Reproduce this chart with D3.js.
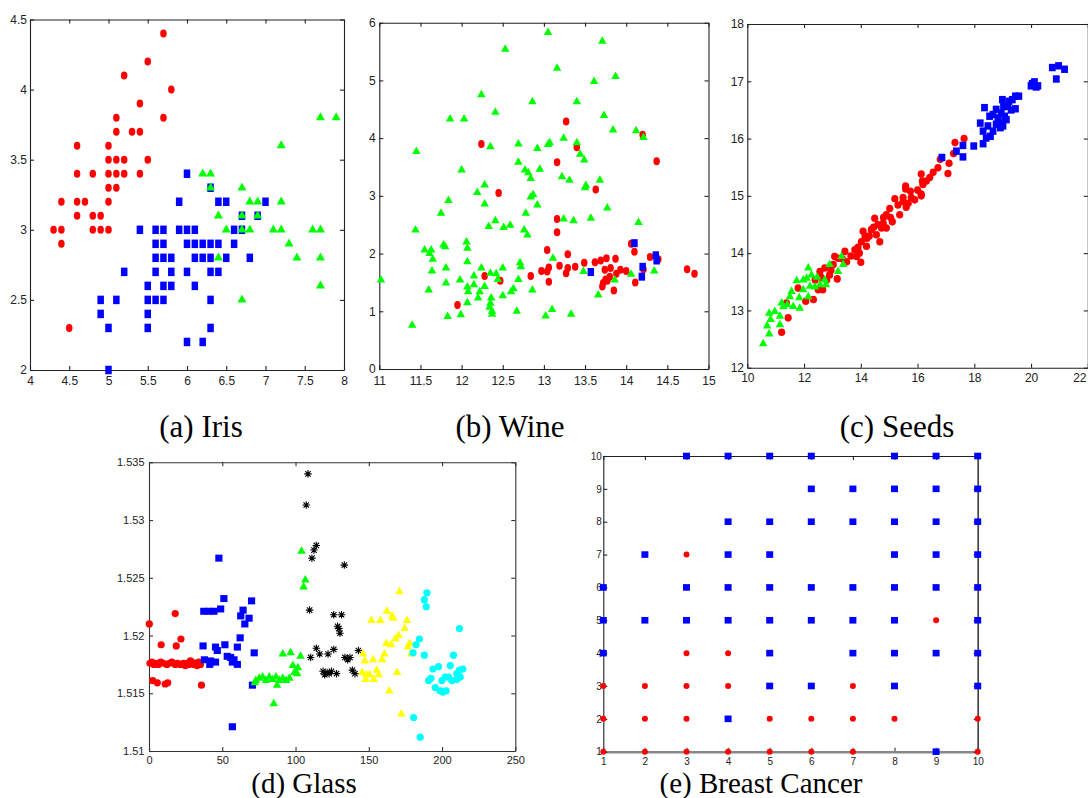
<!DOCTYPE html>
<html>
<head>
<meta charset="utf-8">
<script src="https://cdn.jsdelivr.net/npm/d3@7"></script>
<style>
body { margin: 0; background: #fff; }
</style>
</head>
<body>
<script>

// ---- Iris (sepal length, sepal width)
var irisRed = [[5.7,4.4],[5.5,4.2],[5.2,4.1],[5.8,4.0],[5.4,3.9],[5.1,3.8],[5.7,3.8],[5.1,3.7],[5.3,3.7],[5.4,3.7],
    [4.6,3.6],[5.0,3.6],[5.0,3.5],[5.1,3.5],[5.2,3.5],[5.5,3.5],[4.6,3.4],[4.8,3.4],[5.0,3.4],[5.1,3.4],[5.2,3.4],[5.4,3.4],
    [5.0,3.3],[5.1,3.3],[4.4,3.2],[4.6,3.2],[4.7,3.2],[5.0,3.2],[4.6,3.1],[4.8,3.1],[4.9,3.1],[4.3,3.0],[4.4,3.0],[4.8,3.0],
    [4.9,3.0],[5.0,3.0],[4.4,2.9],[4.5,2.3]];
var irisBlue = [[6.0,3.4],[6.3,3.3],[5.9,3.2],[6.4,3.2],[6.5,3.2],[7.0,3.2],[6.7,3.1],[6.9,3.1],[5.4,3.0],[5.6,3.0],[5.7,3.0],
    [5.9,3.0],[6.0,3.0],[6.1,3.0],[6.6,3.0],[6.7,3.0],[5.6,2.9],[5.7,2.9],[6.0,2.9],[6.1,2.9],[6.2,2.9],[6.3,2.9],[6.4,2.9],
    [6.6,2.9],[5.6,2.8],[5.7,2.8],[5.8,2.8],[6.1,2.8],[6.2,2.8],[6.3,2.8],[6.5,2.8],[6.8,2.8],[5.2,2.7],[5.6,2.7],[5.8,2.7],
    [6.0,2.7],[6.3,2.7],[6.4,2.7],[5.5,2.6],[5.7,2.6],[5.8,2.6],[6.1,2.6],[4.9,2.5],[5.1,2.5],[5.5,2.5],[5.6,2.5],[5.7,2.5],
    [6.3,2.5],[4.9,2.4],[5.5,2.4],[5.0,2.3],[5.5,2.3],[6.3,2.3],[6.0,2.2],[6.2,2.2],[5.0,2.0]];
var irisGreen = [[7.7,3.8],[7.9,3.8],[7.2,3.6],[6.2,3.4],[6.3,3.4],[6.3,3.3],[6.7,3.3],[6.8,3.2],[6.9,3.2],[7.2,3.2],[6.4,3.1],
    [6.7,3.1],[6.9,3.1],[6.5,3.0],[6.7,3.0],[6.8,3.0],[7.1,3.0],[7.2,3.0],[7.6,3.0],[7.7,3.0],[7.3,2.9],[6.4,2.8],[7.4,2.8],
    [7.7,2.8],[7.7,2.6],[6.7,2.5]];
var irisXTicks = [4, 4.5, 5, 5.5, 6, 6.5, 7, 7.5, 8];
var irisXLabels = ["4", "4.5", "5", "5.5", "6", "6.5", "7", "7.5", "8"];
var irisYTicks = [2, 2.5, 3, 3.5, 4, 4.5];
var irisYLabels = ["2", "2.5", "3", "3.5", "4", "4.5"];

// ---- Wine
var wineRed = [[13.27,4.29],[12.24,3.90],[13.40,3.84],[14.20,4.06],[13.16,3.58],[14.37,3.60],[12.45,3.05],[13.63,3.11],
    [13.16,2.60],[13.16,2.37],[13.04,2.06],[13.29,1.99],[14.06,2.17],[14.10,2.03],[14.29,1.94],[14.39,1.90],[13.87,1.91],
    [13.76,1.92],[13.69,1.88],[13.62,1.85],[13.49,1.84],[13.19,1.79],[13.38,1.77],[13.29,1.75],[13.06,1.76],[12.97,1.70],
    [13.04,1.69],[13.27,1.66],[13.74,1.72],[13.81,1.75],[13.93,1.72],[13.88,1.65],[14.00,1.70],[14.21,1.73],[13.80,1.60],
    [13.75,1.55],[13.72,1.49],[13.71,1.43],[13.06,1.51],[12.84,1.61],[12.28,1.61],[12.47,1.53],[14.11,1.50],[13.85,1.36],
    [11.95,1.11],[14.74,1.73],[14.83,1.65],[13.77,1.53]];
var wineGreen = [[13.05,5.83],[13.71,5.68],[12.53,5.54],[13.16,5.21],[13.87,5.07],[13.61,4.98],[12.24,4.75],[12.86,4.63],
    [13.40,4.63],[12.41,4.45],[13.73,4.39],[11.86,4.33],[12.03,4.33],[13.84,4.14],[14.12,4.13],[14.21,4.01],[13.24,4.00],
    [13.07,3.92],[13.05,3.89],[13.40,3.92],[12.69,3.90],[12.35,3.85],[12.92,3.82],[11.45,3.77],[13.44,3.72],[13.49,3.62],
    [12.69,3.58],[12.00,3.45],[12.77,3.45],[12.81,3.40],[12.95,3.46],[12.84,3.30],[13.22,3.33],[13.31,3.27],[13.68,3.27],
    [13.51,3.18],[13.50,3.14],[12.28,3.19],[12.19,3.06],[12.87,3.02],[12.84,2.98],[11.84,2.92],[12.28,2.86],[12.92,2.84],
    [13.77,2.79],[11.75,2.70],[12.78,2.70],[13.24,2.60],[13.36,2.57],[13.57,2.61],[12.41,2.57],[12.33,2.47],[12.59,2.49],
    [12.51,2.45],[14.15,2.54],[11.44,2.41],[12.76,2.41],[12.80,2.32],[12.06,2.20],[12.07,2.09],[11.78,2.15],[11.80,2.12],
    [11.55,2.06],[11.63,2.06],[11.61,2.00],[11.65,1.90],[13.11,1.92],[12.07,1.86],[12.71,1.84],[12.72,1.77],[11.81,1.75],
    [12.24,1.75],[12.50,1.75],[11.64,1.70],[12.35,1.66],[12.42,1.65],[12.15,1.61],[13.48,1.69],[14.34,1.70],[14.06,1.64],
    [13.86,1.54],[11.02,1.54],[11.98,1.54],[12.69,1.55],[12.44,1.55],[12.28,1.43],[11.81,1.49],[12.15,1.46],[12.07,1.42],
    [12.08,1.34],[12.22,1.34],[12.63,1.39],[12.60,1.34],[12.86,1.37],[11.60,1.37],[12.20,1.23],[12.50,1.27],[12.36,1.23],
    [12.35,1.14],[12.07,1.15],[12.34,1.07],[12.37,1.00],[12.37,0.95],[12.67,1.00],[13.10,1.03],[11.99,0.94],[11.83,0.91],
    [13.02,0.92],[13.33,0.95],[13.66,1.28],[11.40,0.76]];
var wineBlue = [[13.57,1.68],[14.10,2.18],[14.20,1.77],[14.19,1.60],[14.36,1.97],[14.37,1.88]];
var wineXTicks = [11, 11.5, 12, 12.5, 13, 13.5, 14, 14.5, 15];
var wineXLabels = ["11", "11.5", "12", "12.5", "13", "13.5", "14", "14.5", "15"];
var wineYTicks = [0, 1, 2, 3, 4, 5, 6];
var wineYLabels = ["0", "1", "2", "3", "4", "5", "6"];

// ---- Seeds
var seedsRed = [[17.64,16.0],[17.32,15.93],[17.27,15.74],[17.11,15.57],[17.07,15.39],[16.8,15.64],[16.72,15.49],[16.55,15.41],
    [16.43,15.32],[16.31,15.26],[16.19,15.2],[16.13,15.38],[16.17,15.26],[15.58,15.17],[15.58,15.12],[16.13,15.0],[15.9,14.93],
    [15.67,14.87],[15.49,14.9],[15.31,14.84],[15.37,14.67],[15.02,14.78],[14.9,14.67],[15.11,14.55],[14.79,14.52],[14.73,14.44],
    [14.9,14.44],[14.49,14.61],[14.37,14.41],[14.08,14.38],[14.55,14.32],[14.67,14.2],[14.22,14.26],[14.02,14.2],[14.2,14.12],
    [13.79,14.06],[13.85,13.94],[14.0,13.84],[13.5,13.85],[13.44,14.03],[13.2,13.91],[13.08,13.94],[13.03,13.8],[12.73,13.74],
    [12.56,13.68],[12.8,13.53],[12.66,13.36],[12.5,13.36],[13.17,13.55],[12.33,13.19],[12.06,13.16],[11.79,13.39],[11.44,12.87],
    [11.21,12.62],[11.38,13.13],[12.39,13.53],[15.49,14.97],[15.78,14.97],[16.13,15.03],[14.3,14.3],[14.45,14.45],[13.9,14.1],
    [15.2,14.95],[15.05,14.62],[14.6,14.5],[14.15,14.3],[13.95,14.0],[13.65,13.95],[12.95,13.7],[12.6,13.58],[15.75,15.08],
    [16.0,15.1],[14.8,14.62],[15.6,14.8],[13.35,13.9],[12.9,13.62]];
var seedsBlue = [[20.75,17.24],[20.97,17.27],[21.18,17.21],[20.89,17.04],[20.0,16.92],[20.12,16.99],[20.18,16.9],[20.24,16.92],
    [20.04,16.96],[19.57,16.74],[19.45,16.74],[19.34,16.68],[19.45,16.52],[19.22,16.65],[18.99,16.68],[19.03,16.56],[18.95,16.45],
    [19.07,16.39],[19.13,16.33],[18.89,16.27],[18.77,16.25],[18.92,16.19],[19.01,16.22],[18.66,16.42],[18.54,16.39],[18.77,16.51],
    [18.36,16.54],[18.21,16.27],[18.31,16.13],[18.48,16.22],[18.57,16.04],[18.42,16.01],[18.31,15.91],[17.98,15.87],[17.6,15.88],
    [17.6,15.68],[17.37,15.78],[16.86,15.67],[19.18,16.56],[18.83,16.36],[19.3,16.5],[18.66,16.13]];
var seedsGreen = [[10.56,12.42],[10.77,12.59],[10.7,12.73],[10.82,12.84],[10.77,12.95],[10.97,12.98],[11.15,12.9],[11.15,12.75],
    [11.27,13.07],[11.21,13.13],[11.41,13.1],[11.5,13.24],[11.56,13.33],[11.62,13.07],[11.85,13.04],[11.83,13.22],[11.74,13.52],
    [11.97,13.53],[12.15,13.74],[12.09,13.56],[12.21,13.42],[12.15,13.24],[12.26,13.62],[12.46,13.58],[12.56,13.45],[12.73,13.53],
    [12.77,13.45],[12.9,13.8],[13.2,13.68],[13.32,13.94],[13.38,13.8],[12.38,13.41],[11.97,13.36]];
var seedsXTicks = [10, 12, 14, 16, 18, 20, 22];
var seedsXLabels = ["10", "12", "14", "16", "18", "20", "22"];
var seedsYTicks = [12, 13, 14, 15, 16, 17, 18];
var seedsYLabels = ["12", "13", "14", "15", "16", "17", "18"];

// ---- Glass (sample index, refractive index)
var glassRed = [[0.2,1.5210],[17.9,1.5219],[21.8,1.5197],[8.3,1.5192],[18.6,1.5191],[0.7,1.5176],[2.0,1.5177],[3.4,1.5175],
    [5.0,1.5176],[6.4,1.5175],[8.0,1.5177],[9.9,1.5176],[12.2,1.5175],[14.0,1.5176],[15.6,1.5177],[17.9,1.5175],[19.5,1.5176],
    [21.3,1.5175],[23.6,1.5176],[24.8,1.5174],[26.0,1.5176],[27.1,1.5175],[28.2,1.5178],[29.4,1.5177],[30.5,1.5175],[31.7,1.5176],
    [32.8,1.5174],[33.9,1.5177],[35.1,1.5175],[2.5,1.5161],[5.7,1.5159],[11.0,1.5158],[12.8,1.5159],[35.8,1.5157]];
var glassBlue = [[47.7,1.5267],[51.1,1.5232],[70.0,1.5230],[37.4,1.5221],[40.8,1.5221],[44.3,1.5221],[48.9,1.5223],[64.2,1.5222],
    [62.6,1.5217],[68.3,1.5215],[65.4,1.5210],[62.2,1.5198],[36.9,1.5191],[45.4,1.5190],[51.8,1.5192],[60.3,1.5190],[46.6,1.5187],
    [71.8,1.5185],[37.8,1.5179],[42.0,1.5178],[45.4,1.5177],[41.5,1.5175],[53.4,1.5182],[55.7,1.5181],[58.0,1.5179],[60.3,1.5175],
    [56.9,1.5177],[70.6,1.5157],[56.9,1.5121]];
var glassGreen = [[104.1,1.5273],[106.7,1.5248],[105.5,1.5242],[91.3,1.5184],[96.6,1.5185],[103.4,1.5182],[98.2,1.5174],
    [101.6,1.5172],[99.3,1.5168],[101.1,1.5167],[72.9,1.5161],[75.2,1.5163],[77.5,1.5164],[79.8,1.5161],[82.1,1.5164],[84.4,1.5162],
    [86.7,1.5164],[89.0,1.5161],[91.3,1.5163],[93.6,1.5161],[95.9,1.5163],[87.4,1.5157],[85.1,1.5141],[72.2,1.5159]];
var glassBlack = [[108.5,1.5340],[107.3,1.5313],[114.2,1.5278],[112.6,1.5274],[111.2,1.5267],[133.3,1.5261],[109.6,1.5222],
    [126.1,1.5218],[131.4,1.5218],[128.7,1.5208],[129.6,1.5206],[130.3,1.5202],[114.2,1.5189],[126.1,1.5188],[142.9,1.5187],
    [110.3,1.5181],[116.5,1.5184],[122.2,1.5184],[133.7,1.5181],[135.6,1.5179],[137.2,1.5181],[118.8,1.5169],[121.6,1.5168],
    [124.5,1.5169],[122.9,1.5167],[119.9,1.5166],[128.0,1.5167],[138.8,1.5170],[140.6,1.5167]];
var glassYellow = [[170.9,1.5238],[162.4,1.5221],[165.9,1.5217],[166.6,1.5215],[151.8,1.5213],[157.9,1.5213],[176.1,1.5213],
    [174.5,1.5206],[170.4,1.5200],[168.1,1.5197],[162.0,1.5193],[165.2,1.5192],[177.9,1.5193],[176.6,1.5190],[178.9,1.5184],
    [160.7,1.5184],[146.1,1.5184],[147.3,1.5178],[153.0,1.5179],[159.1,1.5179],[155.4,1.5170],[145.5,1.5168],[148.4,1.5166],
    [153.4,1.5162],[156.8,1.5166],[147.9,1.5162],[150.5,1.5166],[169.3,1.5168],[164.0,1.5152],[172.2,1.5132]];
var glassCyan = [[189.7,1.5237],[187.9,1.5231],[189.2,1.5225],[211.9,1.5206],[184.6,1.5197],[182.3,1.5192],[180.2,1.5185],
    [187.9,1.5183],[207.8,1.5183],[205.6,1.5174],[193.8,1.5171],[197.6,1.5173],[190.8,1.5161],[192.4,1.5163],[195.4,1.5155],
    [198.8,1.5152],[200.6,1.5151],[202.8,1.5152],[199.9,1.5161],[202.2,1.5164],[204.5,1.5164],[210.1,1.5167],[211.9,1.5170],
    [214.2,1.5171],[212.4,1.5164],[210.1,1.5162],[206.7,1.5161],[180.6,1.5129],[185.1,1.5112]];
var glassXTicks = [0, 50, 100, 150, 200, 250];
var glassXLabels = ["0", "50", "100", "150", "200", "250"];
var glassYTicks = [1.51, 1.515, 1.52, 1.525, 1.53, 1.535];
var glassYLabels = ["1.51", "1.515", "1.52", "1.525", "1.53", "1.535"];

// ---- Breast Cancer
var breastBlue = [[3,10],[4,10],[5,10],[6,10],[8,10],[9,10],[10,10],[6,9],[7,9],[8,9],[9,9],[10,9],[4,8],[5,8],[6,8],[7,8],
    [8,8],[9,8],[10,8],[2,7],[4,7],[5,7],[8,7],[9,7],[10,7],[1,6],[3,6],[4,6],[5,6],[6,6],[7,6],[8,6],[9,6],[10,6],[1,5],[2,5],
    [3,5],[4,5],[5,5],[6,5],[7,5],[8,5],[10,5],[1,4],[5,4],[7,4],[8,4],[9,4],[10,4],[5,3],[6,3],[8,3],[10,3],[4,2],[9,1]];
var breastRed = [[3,7],[9,5],[3,4],[4,4],[1,3],[2,3],[3,3],[4,3],[7,3],[1,2],[2,2],[3,2],[5,2],[6,2],[7,2],[8,2],[10,2],
    [1,1],[2,1],[3,1],[4,1],[5,1],[6,1],[7,1],[10,1]];
var breastTicks = [1, 2, 3, 4, 5, 6, 7, 8, 9, 10];
var breastLabels = ["1", "2", "3", "4", "5", "6", "7", "8", "9", "10"];


var w = 1088;
var h = 798;

var svg = d3.select("body")
    .append("svg")
    .attr("width", w)
    .attr("height", h);

var tickFont = "'Liberation Sans Narrow', 'Arial Narrow', 'Liberation Sans', Arial, sans-serif";

function drawPanel(p) {
    var xScale = d3.scaleLinear().domain(p.xDomain).range([p.left, p.right]);
    var yScale = d3.scaleLinear().domain(p.yDomain).range([p.bottom, p.top]);
    var g = svg.append("g");

    var fmtX = function (d, i) { return p.xLabels[i]; };
    var fmtY = function (d, i) { return p.yLabels[i]; };

    var bottom = g.append("g")
        .attr("transform", "translate(0," + p.bottom + ")")
        .call(d3.axisBottom(xScale).tickValues(p.xTicks).tickFormat(fmtX)
            .tickSize(-p.tick).tickSizeOuter(0).tickPadding(p.padX));
    var left = g.append("g")
        .attr("transform", "translate(" + p.left + ",0)")
        .call(d3.axisLeft(yScale).tickValues(p.yTicks).tickFormat(fmtY)
            .tickSize(-p.tick).tickSizeOuter(0).tickPadding(p.padY));
    var top = g.append("g")
        .attr("transform", "translate(0," + p.top + ")")
        .call(d3.axisTop(xScale).tickValues(p.xTicks).tickFormat("")
            .tickSize(-p.tick).tickSizeOuter(0));
    var right = g.append("g")
        .attr("transform", "translate(" + p.right + ",0)")
        .call(d3.axisRight(yScale).tickValues(p.yTicks).tickFormat("")
            .tickSize(-p.tick).tickSizeOuter(0));

    [bottom, left, top, right].forEach(function (a) {
        a.selectAll("path, line").attr("stroke", p.axisColor || "#222").attr("stroke-width", 1.1);
        a.selectAll("text")
            .attr("fill", "#222")
            .style("font-family", tickFont)
            .style("font-size", p.fontSize + "px");
    });
    if (p.bottomStyle) {
        bottom.select("path").attr("stroke", p.bottomStyle[0]).attr("stroke-width", p.bottomStyle[1]);
        bottom.selectAll("line").attr("stroke", p.bottomStyle[0]).attr("stroke-width", p.bottomStyle[1] * 0.8);
    }
    if (p.rightStyle) {
        right.select("path").attr("stroke", p.rightStyle[0]).attr("stroke-width", p.rightStyle[1]);
    }
    // last x label sits on the page edge for the seeds panel: keep it inside
    if (p.clampLast) {
        bottom.selectAll(".tick text").filter(function (d, i) { return i === p.xTicks.length - 1; })
            .attr("text-anchor", "end").attr("dx", "-0.15em");
    }

    p.series.forEach(function (s) {
        var sel = g.append("g").selectAll(".m").data(s.data).enter();
        if (s.shape === "circle") {
            sel.append("ellipse")
                .attr("cx", function (d) { return xScale(d[0]); })
                .attr("cy", function (d) { return yScale(d[1]); })
                .attr("rx", s.w / 2)
                .attr("ry", s.h / 2)
                .attr("fill", s.color);
        } else if (s.shape === "square") {
            sel.append("rect")
                .attr("x", function (d) { return xScale(d[0]) - s.w / 2; })
                .attr("y", function (d) { return yScale(d[1]) - s.h / 2; })
                .attr("width", s.w)
                .attr("height", s.h)
                .attr("fill", s.color);
        } else if (s.shape === "triangle") {
            var a = s.w / 2, t = s.h;
            sel.append("path")
                .attr("transform", function (d) { return "translate(" + xScale(d[0]) + "," + yScale(d[1]) + ")"; })
                .attr("d", "M0," + (-2 * t / 3) + "L" + a + "," + (t / 3) + "L" + (-a) + "," + (t / 3) + "Z")
                .attr("fill", s.color);
        } else if (s.shape === "star") {
            var r = s.w / 2, q = r * 0.72;
            sel.append("path")
                .attr("transform", function (d) { return "translate(" + xScale(d[0]) + "," + yScale(d[1]) + ")"; })
                .attr("d", "M" + (-r) + ",0H" + r + "M0," + (-r) + "V" + r +
                    "M" + (-q) + "," + (-q) + "L" + q + "," + q + "M" + (-q) + "," + q + "L" + q + "," + (-q))
                .attr("stroke", s.color)
                .attr("stroke-width", 1.1)
                .attr("fill", "none");
        }
    });
}

drawPanel({
    left: 30, right: 344, top: 19.5, bottom: 370,
    xDomain: [4, 8], yDomain: [2, 4.5],
    xTicks: irisXTicks, xLabels: irisXLabels, yTicks: irisYTicks, yLabels: irisYLabels,
    tick: 4, padX: 6, padY: 3, fontSize: 12,
    series: [
        {data: irisRed, shape: "circle", color: "#ff0000", w: 6.5, h: 8},
        {data: irisBlue, shape: "square", color: "#0000ff", w: 6.5, h: 8.5},
        {data: irisGreen, shape: "triangle", color: "#00ff00", w: 9, h: 8}
    ]
});

drawPanel({
    left: 379.3, right: 708.5, top: 22.7, bottom: 369,
    xDomain: [11, 15], yDomain: [0, 6],
    xTicks: wineXTicks, xLabels: wineXLabels, yTicks: wineYTicks, yLabels: wineYLabels,
    tick: 4, padX: 7, padY: 3.5, fontSize: 12,
    series: [
        {data: wineRed, shape: "circle", color: "#ff0000", w: 6.5, h: 8},
        {data: wineGreen, shape: "triangle", color: "#00ff00", w: 8.5, h: 7.5},
        {data: wineBlue, shape: "square", color: "#0000ff", w: 6.5, h: 8}
    ]
});

drawPanel({
    left: 747.3, right: 1087.8, top: 24, bottom: 367.7,
    xDomain: [10, 22], yDomain: [12, 18],
    xTicks: seedsXTicks, xLabels: seedsXLabels, yTicks: seedsYTicks, yLabels: seedsYLabels,
    tick: 4, padX: 6, padY: 3.3, fontSize: 12, clampLast: true,
    series: [
        {data: seedsRed, shape: "circle", color: "#ff0000", w: 7.2, h: 7.6},
        {data: seedsBlue, shape: "square", color: "#0000ff", w: 6.8, h: 7.4},
        {data: seedsGreen, shape: "triangle", color: "#00ff00", w: 8.5, h: 7.5}
    ]
});

drawPanel({
    left: 149, right: 515.3, top: 462.3, bottom: 751,
    xDomain: [0, 250], yDomain: [1.51, 1.535],
    xTicks: glassXTicks, xLabels: glassXLabels, yTicks: glassYTicks, yLabels: glassYLabels,
    tick: 4, padX: 5.5, padY: 4.5, fontSize: 11, axisColor: "#333",
    series: [
        {data: glassRed, shape: "circle", color: "#ff0000", w: 7.2, h: 7.2},
        {data: glassBlue, shape: "square", color: "#0000ff", w: 7.2, h: 7},
        {data: glassGreen, shape: "triangle", color: "#00ff00", w: 8.5, h: 7.5},
        {data: glassBlack, shape: "star", color: "#000000", w: 7.5, h: 7.5},
        {data: glassYellow, shape: "triangle", color: "#ffff00", w: 8.5, h: 7.5},
        {data: glassCyan, shape: "circle", color: "#00ffff", w: 7.2, h: 7.2}
    ]
});

drawPanel({
    left: 603.3, right: 977.7, top: 456, bottom: 751.7,
    xDomain: [1, 10], yDomain: [1, 10],
    xTicks: breastTicks, xLabels: breastLabels, yTicks: breastTicks, yLabels: breastLabels,
    tick: 4, padX: 6, padY: 1.5, fontSize: 10,
    bottomStyle: ["#888", 2.4], rightStyle: ["#444", 1.7],
    series: [
        {data: breastRed, shape: "circle", color: "#ff0000", w: 6, h: 6},
        {data: breastBlue, shape: "square", color: "#0000ff", w: 7, h: 6.6}
    ]
});

// captions under each panel
var captionText = ["(a) Iris", "(b) Wine", "(c) Seeds", "(d) Glass", "(e) Breast Cancer"];
var captionX = [201, 510, 897, 304, 761];
var captionY = [437, 437, 437, 793, 793];
var captionSize = [31, 31, 31, 29, 29];

svg.selectAll(".caption")
    .data(captionText)
    .enter()
    .append("text")
    .attr("class", "caption")
    .attr("x", function (d, i) { return captionX[i]; })
    .attr("y", function (d, i) { return captionY[i]; })
    .attr("text-anchor", "middle")
    .style("font-family", "'Liberation Serif', 'Times New Roman', serif")
    .style("font-size", function (d, i) { return captionSize[i] + "px"; })
    .style("fill", "#000")
    .text(function (d) { return d; });

</script>
</body>
</html>
